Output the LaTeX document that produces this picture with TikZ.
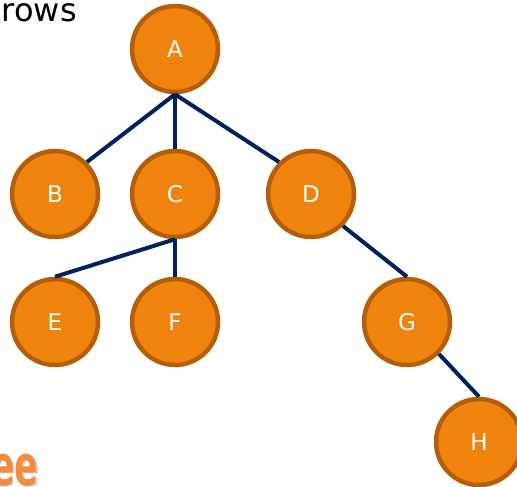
\documentclass[tikz,border=0pt]{standalone}
\usepackage{fontspec}
\setmainfont{DejaVu Sans}
\usepackage{tikz}

\definecolor{nodefill}{HTML}{F0820E}
\definecolor{nodeedge}{HTML}{B45F08}
\definecolor{linkblue}{HTML}{00215F}
\definecolor{titleorange}{HTML}{F68B3C}

\begin{document}
\begin{tikzpicture}[x=1pt,y=-1pt,
  treenode/.style={circle,draw=nodeedge,fill=nodefill,line width=4.5pt,
    minimum size=86pt,inner sep=0pt,text=white,font=\fontsize{23}{23}\selectfont},
  link/.style={draw=linkblue,line width=4pt},
  footertext/.style={anchor=base west,inner sep=0pt,font=\fontsize{56}{56}\bfseries\selectfont}]
\useasboundingbox (0,0) rectangle (517,487);
% bits of the slide text around the tree
\node[anchor=base east,inner sep=0pt,font=\fontsize{32}{32}\selectfont] (title) at (77,22) {rows};
\node[footertext,text=gray!40] at (-7.5,486.5) {\scalebox{0.62}[1]{ee}};
\node[footertext,text=titleorange] (footer) at (-9,485) {\scalebox{0.62}[1]{ee}};
% the tree
\node[treenode] (A) at (175,49) {A};
\node[treenode] (B) at (55,194) {B};
\node[treenode] (C) at (175,194) {C};
\node[treenode] (D) at (311,194) {D};
\node[treenode] (E) at (55,322) {E};
\node[treenode] (F) at (175,322) {F};
\node[treenode] (G) at (407,322) {G};
\node[treenode] (H) at (479,442) {H};
\draw[link] (A.south) -- (B.north east);
\draw[link] (A.south) -- (C.north);
\draw[link] (A.south) -- (D.north west);
\draw[link] (C.south) -- (E.north);
\draw[link] (C.south) -- (F.north);
\draw[link] (D.south east) -- (G.north);
\draw[link] (G.south east) -- (H.north);
\end{tikzpicture}
\end{document}
